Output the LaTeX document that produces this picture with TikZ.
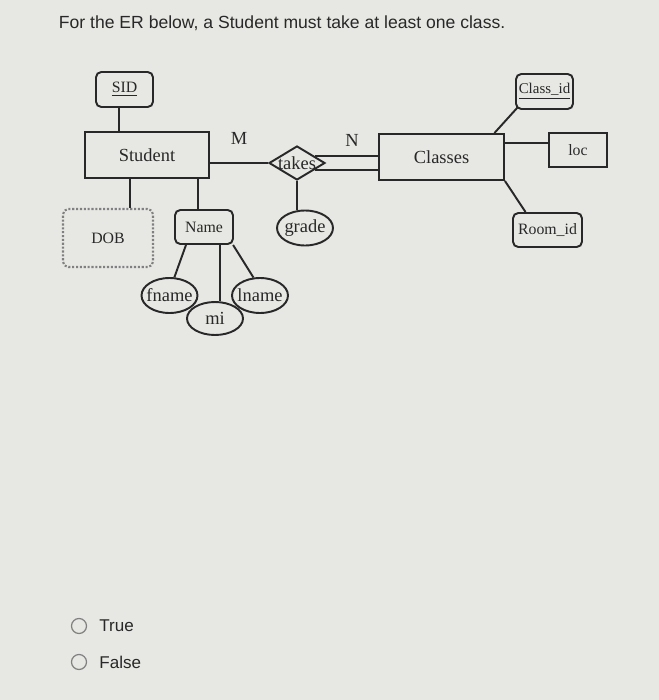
\documentclass[tikz,border=0pt]{standalone}
\usepackage{fontspec}
\setmainfont{Liberation Serif}
\newfontfamily\uifont{Liberation Sans}
\usetikzlibrary{shapes.geometric,positioning}
\definecolor{paper}{RGB}{231,231,227}
\definecolor{ink}{RGB}{40,40,40}

\begin{document}
\begin{tikzpicture}[x=0.02cm,y=-0.02cm,color=ink,line width=1.1pt,font=\fontsize{9}{11}\selectfont]
  \tikzset{
    entity/.style={draw,rectangle,minimum width=2.48cm,minimum height=0.92cm,font=\fontsize{10.5}{12}\selectfont},
    keyattr/.style={draw,rounded corners=3pt,minimum width=1.14cm,minimum height=0.7cm,inner sep=0pt},
    attr/.style={draw,ellipse,minimum width=1.12cm,minimum height=0.7cm,inner sep=0pt,font=\fontsize{10.5}{12}\selectfont},
    rel/.style={draw,diamond,minimum width=1.12cm,minimum height=0.68cm,inner sep=0pt,font=\fontsize{10.5}{12}\selectfont},
    card/.style={font=\fontsize{10.5}{12}\selectfont},
    radio/.style={draw=gray,circle,minimum size=0.3cm,inner sep=0pt,line width=0.7pt},
    answer/.style={font=\uifont\fontsize{9.7}{12}\selectfont}
  }
  \fill[paper] (0,0) rectangle (659,700);
  \useasboundingbox (0,0) rectangle (659,700);

  \node[anchor=base west,inner sep=0pt,font=\uifont\fontsize{10}{12}\selectfont] (question) at (58,28) {For the ER below, a Student must take at least one class.};

  % entities and relationship
  \node[keyattr] (sid) at (124.5,89.5) {\underline{SID}};
  \node[entity] (student) at (147,155) {Student};
  \node[rel] (takes) at (297,163) {\makebox[0pt]{takes}};
  \node[entity,minimum width=2.5cm] (classes) at (441.5,157) {Classes};
  \node[card] (m) at (239,138) {M};
  \node[card] (n) at (352,140) {N};

  % attributes of Classes
  \node[keyattr,font=\fontsize{8.5}{10}\selectfont] (classid) at (544.5,91.5) {\underline{Class\_id}};
  \node[draw,minimum width=1.16cm,minimum height=0.68cm] (loc) at (578,150) {loc};
  \node[keyattr,minimum width=1.38cm,minimum height=0.68cm] (roomid) at (547.5,230) {Room\_id};

  % attributes of Student
  \node[keyattr,densely dotted,draw=gray,line width=1.2pt,minimum width=1.8cm,minimum height=1.16cm] (dob) at (108,238) {DOB};
  \node[keyattr,minimum width=1.16cm,minimum height=0.68cm] (name) at (204,227) {Name};
  \node[attr] (fname) at (169.5,295.5) {\makebox[0pt]{fname}};
  \node[attr] (lname) at (260,295.5) {\makebox[0pt]{lname}};
  \node[attr,minimum height=0.66cm] (mi) at (215,318.5) {\makebox[0pt]{mi}};
  \node[attr] (grade) at (305,228) {\makebox[0pt]{grade}};

  % connectors
  \draw ([xshift=-3pt]sid.south) -- ([xshift=-3pt]sid.south |- student.north);
  \draw (takes.west) -- (takes.west -| student.east);
  \draw (takes.20) -- (takes.20 -| classes.west);
  \draw (takes.-20) -- (takes.-20 -| classes.west);
  \draw (takes.south) -- (takes.south |- grade.north);
  \draw ([xshift=-6pt]classes.north east) -- ([xshift=1.5pt,yshift=1.5pt]classid.south west);
  \path ([yshift=4pt]loc.west) coordinate (locin);
  \draw (locin) -- (locin -| classes.east);
  \draw (classes.south east) -- ([xshift=-12.5pt]roomid.north);
  \draw ([xshift=12.5pt]dob.north) -- ([xshift=12.5pt]dob.north |- student.south);
  \draw ([xshift=-3.4pt]name.north) -- ([xshift=-3.4pt]name.north |- student.south);
  \draw ([xshift=6.8pt]name.south west) -- (fname.75);
  \draw ([xshift=26pt]name.south west) -- ([xshift=26pt]name.south west |- mi.north);
  \draw ([xshift=-0.5pt]name.south east) -- (lname.110);

  % answers
  \node[radio] (rtrue) at (79,626) {};
  \node[answer,right=1.1mm of rtrue] (ttrue) {True};
  \node[radio] (rfalse) at (79,662) {};
  \node[answer,right=1.1mm of rfalse] (tfalse) {False};
\end{tikzpicture}
\end{document}
